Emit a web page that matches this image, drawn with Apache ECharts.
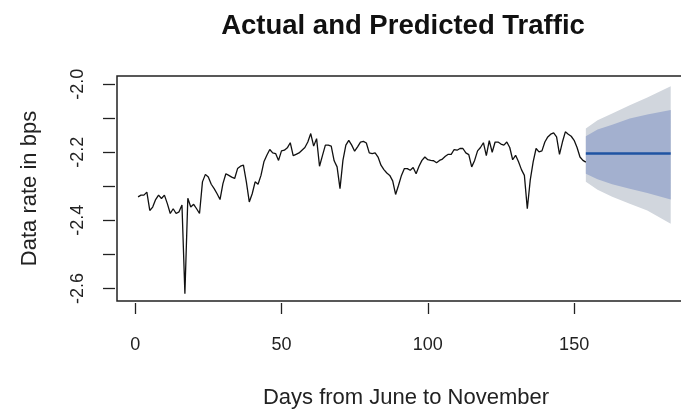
<!DOCTYPE html>
<html style="height: 100%">
<head>
    <meta charset="utf-8">
</head>
<body style="height: 100%; margin: 0; background: #fff">
    <div id="container" style="width: 681px; height: 414px"></div>
    <script src="https://cdn.jsdelivr.net/npm/echarts@6/dist/echarts.min.js"></script>
    <script type="text/javascript">
        // observed data rate, one value per day (day 1..154)
        var actual = [
            -2.331, -2.326, -2.326, -2.317, -2.371, -2.361, -2.339, -2.326, -2.336, -2.326,
            -2.351, -2.380, -2.366, -2.380, -2.375, -2.355, -2.616, -2.335, -2.361, -2.353,
            -2.366, -2.380, -2.287, -2.265, -2.273, -2.294, -2.307, -2.322, -2.339, -2.292,
            -2.263, -2.268, -2.273, -2.277, -2.248, -2.241, -2.238, -2.287, -2.346, -2.322,
            -2.287, -2.294, -2.268, -2.228, -2.209, -2.192, -2.202, -2.204, -2.224, -2.196,
            -2.194, -2.187, -2.172, -2.210, -2.206, -2.202, -2.194, -2.186, -2.170, -2.145,
            -2.182, -2.160, -2.241, -2.210, -2.179, -2.179, -2.182, -2.225, -2.243, -2.307,
            -2.224, -2.179, -2.165, -2.179, -2.197, -2.184, -2.170, -2.168, -2.173, -2.202,
            -2.204, -2.202, -2.214, -2.238, -2.251, -2.261, -2.268, -2.284, -2.324, -2.297,
            -2.268, -2.248, -2.248, -2.253, -2.245, -2.263, -2.241, -2.224, -2.214, -2.222,
            -2.224, -2.225, -2.231, -2.224, -2.220, -2.212, -2.206, -2.206, -2.192, -2.194,
            -2.189, -2.189, -2.202, -2.207, -2.243, -2.224, -2.196, -2.186, -2.172, -2.210,
            -2.166, -2.200, -2.170, -2.170, -2.176, -2.179, -2.170, -2.186, -2.222, -2.209,
            -2.228, -2.251, -2.268, -2.366, -2.282, -2.228, -2.189, -2.199, -2.196, -2.170,
            -2.155, -2.147, -2.143, -2.155, -2.206, -2.170, -2.140, -2.147, -2.153, -2.165,
            -2.186, -2.214, -2.224, -2.229
        ];

        // forecast
        var fcDays = [154, 158, 163, 169, 175, 183];
        var fcMean = [-2.204, -2.204, -2.204, -2.204, -2.204, -2.204];
        var fcHi80 = [-2.153, -2.133, -2.119, -2.101, -2.089, -2.076];
        var fcLo80 = [-2.263, -2.279, -2.294, -2.307, -2.320, -2.339];
        var fcHi95 = [-2.130, -2.106, -2.086, -2.062, -2.039, -2.006];
        var fcLo95 = [-2.287, -2.310, -2.331, -2.351, -2.371, -2.410];

        var xTicks = [0, 50, 100, 150];
        var yTicks = [-2.6, -2.5, -2.4, -2.3, -2.2, -2.1, -2.0];
        var yLabels = [-2.6, -2.4, -2.2, -2.0];

        var dom = document.getElementById("container");
        var myChart = echarts.init(dom);
        var font = "'Liberation Sans', Arial, sans-serif";

        var actualData = actual.map(function (v, i) { return [i + 1, v]; });
        var meanData = fcDays.map(function (d, i) { return [d, fcMean[i]]; });

        // polygon between an upper and a lower bound
        function band(upper, lower, color) {
            return {
                type: 'custom',
                silent: true,
                data: [[fcDays[0], upper[0]]],
                renderItem: function (params, api) {
                    var pts = [];
                    fcDays.forEach(function (d, i) { pts.push(api.coord([d, upper[i]])); });
                    for (var i = fcDays.length - 1; i >= 0; i--) {
                        pts.push(api.coord([fcDays[i], lower[i]]));
                    }
                    return { type: 'polygon', shape: { points: pts }, style: { fill: color } };
                }
            };
        }

        var option = {
            animation: false,
            title: {
                text: 'Actual and Predicted Traffic',
                left: 403,
                top: 12,
                padding: 0,
                textAlign: 'center',
                textStyle: { fontFamily: font, fontSize: 27.5, fontWeight: 'bold', color: '#111' }
            },
            grid: {
                left: 117,
                top: 76,
                width: 578,
                height: 225,
                outerBoundsMode: 'none',
                show: true,
                borderColor: '#222',
                borderWidth: 1.5
            },
            xAxis: {
                type: 'value',
                min: -6.2,
                max: 191.3,
                offset: 2,
                name: 'Days from June to November',
                nameLocation: 'middle',
                nameGap: 84,
                nameTextStyle: { fontFamily: font, fontSize: 22, color: '#222' },
                axisLine: { show: false, onZero: false },
                axisTick: { customValues: xTicks, length: 11, lineStyle: { color: '#222', width: 1.3 } },
                axisLabel: { customValues: xTicks, margin: 33, fontFamily: font, fontSize: 18, color: '#222' },
                splitLine: { show: false }
            },
            yAxis: {
                type: 'value',
                min: -2.637,
                max: -1.976,
                offset: 2,
                name: 'Data rate in bps',
                nameLocation: 'middle',
                nameGap: 74,
                nameTextStyle: { fontFamily: font, fontSize: 22, color: '#222' },
                axisLine: { show: false, onZero: false },
                axisTick: { customValues: yTicks, length: 12, lineStyle: { color: '#222', width: 1.3 } },
                axisLabel: {
                    customValues: yLabels,
                    rotate: 90,
                    margin: 28,
                    fontFamily: font,
                    fontSize: 18,
                    color: '#222',
                    formatter: function (v) { return v.toFixed(1); }
                },
                splitLine: { show: false }
            },
            series: [
                band(fcHi95, fcLo95, '#d1d6dd'),
                band(fcHi80, fcLo80, '#a3b0cf'),
                {
                    name: 'Predicted',
                    type: 'line',
                    data: meanData,
                    showSymbol: false,
                    lineStyle: { color: '#1f53a3', width: 2.5 }
                },
                {
                    name: 'Actual',
                    type: 'line',
                    data: actualData,
                    showSymbol: false,
                    lineStyle: { color: '#111', width: 1.3 }
                }
            ]
        };

        myChart.setOption(option);
    </script>
</body>
</html>
